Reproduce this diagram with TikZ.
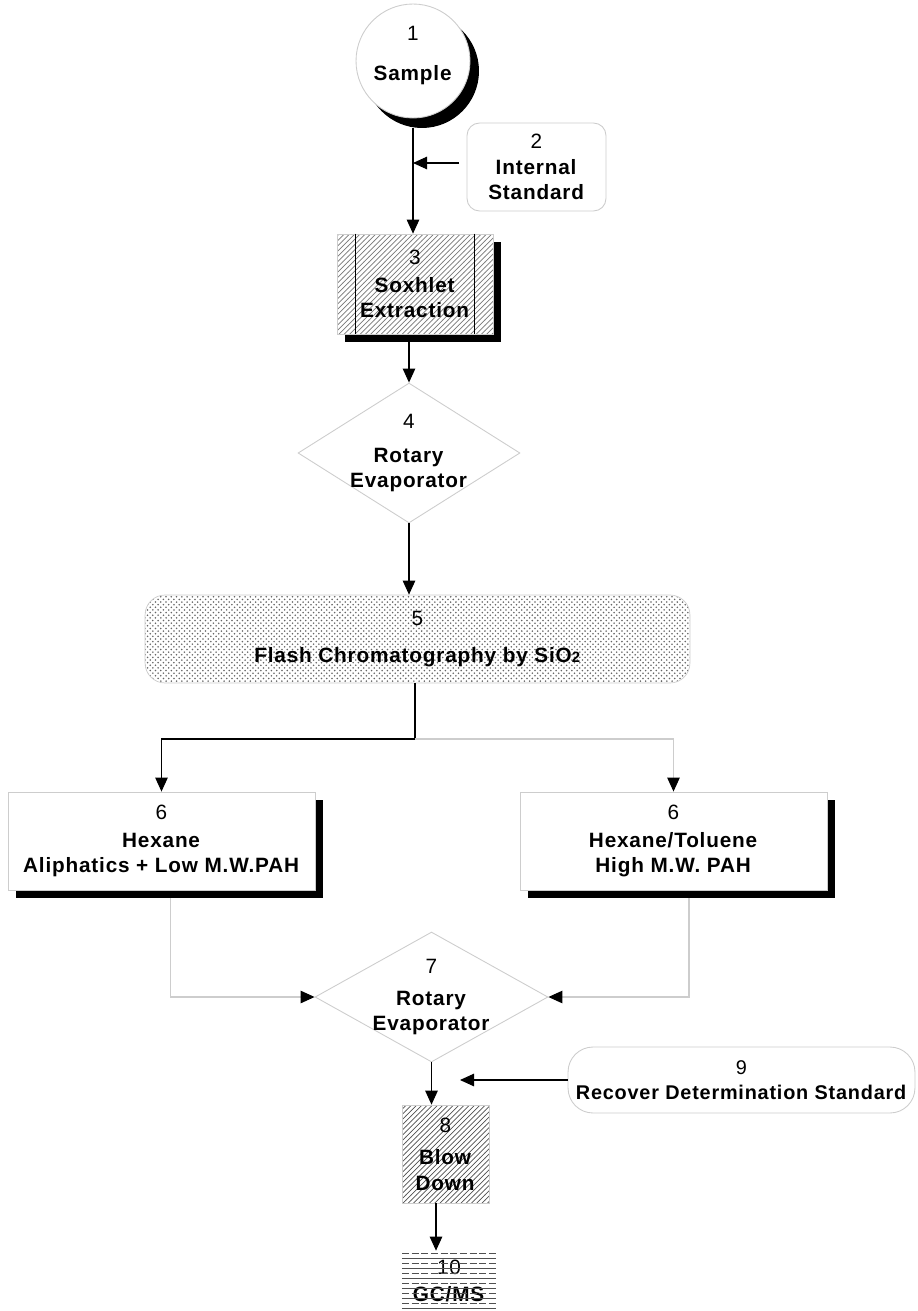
\documentclass[tikz,border=0pt]{standalone}
\usepackage{fontspec}
\setmainfont[LetterSpace=4]{Liberation Sans}
\usetikzlibrary{shapes, arrows.meta, positioning, calc, patterns, shadows}

\definecolor{edgegray}{RGB}{205,205,205}
\definecolor{hatchgray}{RGB}{120,120,120}
\definecolor{darkhatch}{RGB}{80,80,80}

\tikzset{
  txt/.style={font=\fontsize{11.8}{14.5}\selectfont, align=center},
  outline/.style={draw=edgegray, line width=0.5pt},
  blackshadow/.style={drop shadow={shadow xshift=0.16cm, shadow yshift=-0.16cm, fill=black, opacity=1}},
  procbox/.style={rectangle, outline, blackshadow, fill=white, txt, minimum width=6.14cm, minimum height=1.96cm, inner sep=0pt},
  decision/.style={diamond, outline, fill=white, txt, inner sep=-16pt},
  arr/.style={line width=0.6pt, -{Triangle[length=0.28cm, width=0.25cm]}},
  grayarr/.style={draw=edgegray, line width=0.6pt, -{Triangle[length=0.28cm, width=0.25cm, color=black]}},
}

\begin{document}
\begin{tikzpicture}[x=0.02cm, y=-0.02cm]
  \useasboundingbox (0,0) rectangle (917,1311);

  % Sample and internal standard
  \node[circle, outline, fill=white, drop shadow={shadow xshift=0.18cm, shadow yshift=-0.2cm, fill=black, opacity=1}, txt, minimum size=2.28cm, inner sep=0pt] (sample) at (413,61) {1\\[8pt]\textbf{Sample}\\[-6pt]};
  \node[rectangle, outline, rounded corners=0.25cm, txt, minimum width=2.78cm, minimum height=1.76cm] (intstd) at (536.5,167) {2\\\textbf{Internal}\\\textbf{Standard}};

  % Soxhlet extraction
  \node[rectangle, draw=edgegray, blackshadow, preaction={fill=white}, pattern=north east lines, pattern color=hatchgray, txt, minimum width=3.12cm, minimum height=2cm, inner sep=0pt] (sox) at (415,284) {3\\[1pt]\textbf{Soxhlet}\\\textbf{Extraction}};
  \draw[line width=0.5pt] ([xshift=0.38cm]sox.north west) -- ([xshift=0.38cm]sox.south west);
  \draw[line width=0.5pt] ([xshift=-0.38cm]sox.north east) -- ([xshift=-0.38cm]sox.south east);

  \coordinate (join1) at (413,163);
  \draw[arr] ([yshift=-0.2cm]sample.south) -- (sample.south |- sox.north);
  \draw[arr, shorten <=0.15cm] (intstd.west |- join1) -- (join1);

  % First rotary evaporator
  \node[decision, minimum width=4.44cm, minimum height=2.8cm] (rot4) at (409,453) {4\\[5pt]\textbf{Rotary}\\\textbf{Evaporator}};
  \draw[arr] ([yshift=-0.16cm]sox.south -| rot4.north) -- (rot4.north);

  % Flash chromatography
  \node[rectangle, draw=edgegray, rounded corners=0.4cm, pattern=crosshatch dots, pattern color=gray!80!black, txt, minimum width=10.9cm, minimum height=1.76cm] (flash) at (417.5,639) {5\\[7pt]\textbf{Flash Chromatography by SiO{\fontsize{8.5}{8}\selectfont 2}}};
  \draw[arr] (rot4.south) -- (rot4.south |- flash.north);

  % Fractions
  \node[procbox] (hexL) at (161.5,841) {6\\[1.5pt]\textbf{Hexane}\\\textbf{Aliphatics + Low M.W.PAH}};
  \node[procbox] (hexR) at (673.5,841) {6\\[1.5pt]\textbf{Hexane/Toluene}\\\textbf{High M.W. PAH}};

  \coordinate (split) at (415,739);
  \draw[line width=0.6pt] (flash.south -| split) -- (split);
  \draw[arr] (split) -| (hexL.north);
  \draw[grayarr] (split) -| (hexR.north);

  % Second rotary evaporator
  \node[decision, minimum width=4.66cm, minimum height=2.6cm] (rot7) at (431.5,997) {7\\[4pt]\textbf{Rotary}\\\textbf{Evaporator}};
  \draw[grayarr, shorten <=0.16cm] ([xshift=0.18cm]hexL.south) |- (rot7.west);
  \draw[grayarr, shorten <=0.16cm] ([xshift=0.31cm]hexR.south) |- (rot7.east);

  % Recovery standard and blow down
  \node[rectangle, outline, rounded corners=0.5cm, txt, font=\fontsize{11.3}{14.5}\selectfont, minimum width=6.94cm, minimum height=1.32cm, inner sep=0pt] (recover) at (741.5,1080) {9\\\textbf{Recover Determination Standard}};
  \node[rectangle, draw=edgegray, pattern=north east lines, pattern color=darkhatch, txt, minimum width=1.74cm, minimum height=1.96cm, inner sep=0pt] (blow) at (445.5,1154) {8\\[4pt]\textbf{Blow}\\\textbf{Down}};
  \coordinate (join9) at (460,1080);
  \draw[arr] (rot7.south) -- (rot7.south |- blow.north);
  \draw[arr] (recover.west) -- (join9);

  % GC/MS
  \node[rectangle, txt, minimum width=1.88cm, minimum height=1.2cm, inner sep=0pt] (gcms) at (449,1281) {10\\[1pt]\textbf{GC/MS}};
  \foreach \yy in {1258,1268,...,1308}
    \draw[darkhatch, line width=0.5pt] (402,\yy) -- (496,\yy);
  \foreach \yy in {1253,1263,...,1303}
    \draw[darkhatch, line width=0.4pt, dash pattern=on 4pt off 1.5pt] (402,\yy) -- (496,\yy);
  \draw[arr] ([xshift=-0.19cm]blow.south) -- ([xshift=-0.19cm]blow.south |- gcms.north);
\end{tikzpicture}
\end{document}
